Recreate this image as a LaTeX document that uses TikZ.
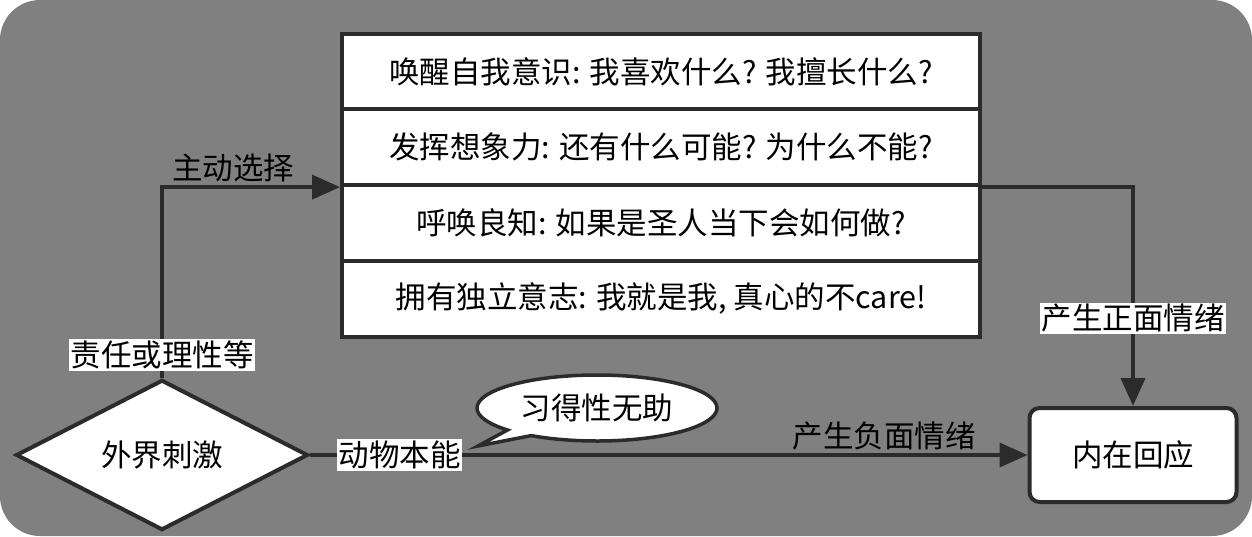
\documentclass[tikz,border=0pt]{standalone}
\usepackage{fontspec}
\setmainfont{Noto Sans CJK SC}
\usetikzlibrary{arrows.meta}
\usetikzlibrary{positioning, calc}
\usetikzlibrary{shapes.geometric, shapes.callouts}
\definecolor{bggray}{HTML}{808080}
\definecolor{ink}{HTML}{2B2B2B}

\begin{document}
\begin{tikzpicture}[x=1pt, y=-1pt,
    font=\fontsize{30.5}{35}\selectfont,
    line/.style={ink, line width=4pt},
    arr/.style={line, -{Triangle[length=28pt, width=24pt]}},
    block/.style={draw=ink, line width=4pt, fill=white, text=black},
    row/.style={block, minimum width=638pt, minimum height=75.8pt},
    lab/.style={fill=white, text=black, inner sep=1.5pt},
    lbl/.style={above, text=black, inner sep=3pt}
]
    \fill[white] (0,0) rectangle (1252,536);
    \fill[bggray, rounded corners=40pt] (0,0) rectangle (1252,536);
    \useasboundingbox (0,0) rectangle (1252,536);

    \foreach \txt [count=\i from 0] in {{唤醒自我意识: 我喜欢什么? 我擅长什么?}, {发挥想象力: 还有什么可能? 为什么不能?}, {呼唤良知: 如果是圣人当下会如何做?}, {拥有独立意志: 我就是我, 真心的不care!}} {
        \node[row] (r\i) at (661, {71.5 + 75.7 * \i}) {\txt};
    }

    \node[block, diamond, minimum width=292pt, minimum height=96pt, inner sep=0pt] (stim) at (162, 455) {外界刺激};
    \node[block, rounded corners=10pt, minimum width=207pt, minimum height=94pt] (resp) at (1133, 455) {内在回应};
    \node[block, ellipse callout, line width=3.5pt, minimum width=240pt, minimum height=66pt, callout absolute pointer={(478, 446)}] (bub) at (597, 408) {习得性无助};

    \draw[arr] (stim.north) |- node[lab, pos=0.06] {责任或理性等} node[lbl, pos=0.7] {主动选择} (r1.south west);
    \draw[arr] (r1.south east) -| node[lab, pos=0.8] {产生正面情绪} (resp.north);
    \draw[arr] (stim.east) -- node[lab, pos=0.125] {动物本能} node[lbl, pos=0.8] {产生负面情绪} (resp.west);

\end{tikzpicture}
\end{document}
